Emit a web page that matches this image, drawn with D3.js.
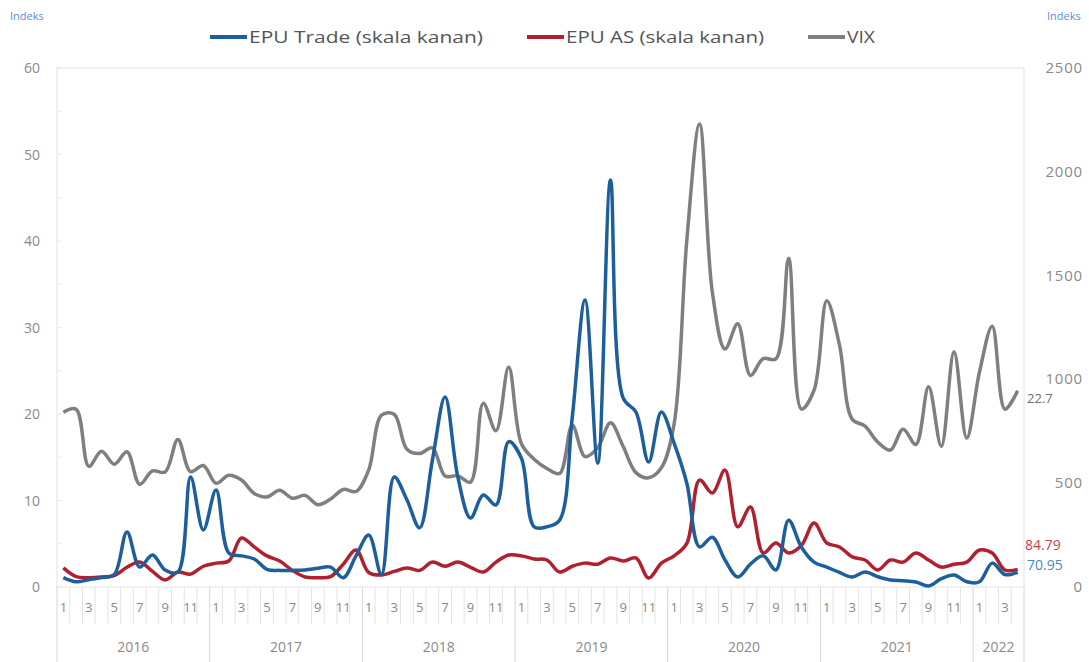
<!DOCTYPE html>
<html>
<head>
<meta charset="utf-8">
<script src="https://cdn.jsdelivr.net/npm/d3@7.9.0/dist/d3.min.js"></script>
<style>
  body { margin: 0; background: #fff; }
  svg { display: block; font-family: "Open Sans", "Noto Sans", sans-serif; }
</style>
</head>
<body>
<svg id="chart" width="1089" height="662"></svg>
<script>
// months Jan 2016 .. Apr 2022
const years = [2016, 2017, 2018, 2019, 2020, 2021, 2022];
const monthsPerYear = [12, 12, 12, 12, 12, 12, 4];

// VIX (left axis)
const vix = [
  20.2, 20.55, 13.95, 15.7, 14.19, 15.63, 11.87, 13.42, 13.29, 17.06, 13.33, 14.04,
  11.99, 12.92, 12.37, 10.82, 10.41, 11.18, 10.26, 10.59, 9.51, 10.18, 11.28, 11.04,
  13.54, 19.85, 19.97, 15.93, 15.43, 16.09, 12.83, 12.86, 12.12, 21.23, 18.07, 25.42,
  16.57, 14.78, 13.71, 13.12, 18.71, 15.08, 16.12, 18.98, 16.24, 13.22, 12.62, 13.78,
  18.84, 40.11, 53.54, 34.15, 27.51, 30.43, 24.46, 26.41, 26.37, 38.02, 20.57, 22.75,
  33.09, 27.95, 19.4, 18.61, 16.76, 15.83, 18.24, 16.48, 23.14, 16.26, 27.19, 17.22,
  24.83, 30.15, 20.56, 22.7
];

// EPU Trade (right axis)
const epuTrade = [
  45, 25, 35, 45, 60, 265, 96, 154, 82, 72, 530, 275,
  467, 164, 150, 135, 85, 80, 80, 82, 90, 96, 45, 150,
  250, 60, 530, 420, 285, 610, 915, 530, 332, 443, 395, 700,
  620, 290, 290, 322, 820, 1382, 597, 1960, 910, 843, 602, 843,
  693, 500, 193, 240, 130, 48, 110, 150, 82, 322, 193, 120,
  96, 70, 48, 72, 50, 34, 30, 24, 5, 40, 58, 25,
  25, 115, 60, 70.95
];

// EPU AS (right axis)
const epuAS = [
  92, 50, 45, 48, 55, 95, 120, 75, 34, 72, 62, 100,
  115, 125, 236, 193, 150, 125, 80, 48, 45, 50, 110, 178,
  70, 58, 75, 92, 80, 120, 100, 120, 95, 72, 120, 154,
  150, 135, 130, 72, 100, 115, 110, 140, 125, 140, 43, 115,
  150, 210, 515, 453, 563, 290, 385, 164, 212, 164, 200, 308,
  212, 193, 145, 130, 82, 130, 120, 164, 130, 96, 110, 120,
  178, 164, 82, 84.79
];

const leftTicks = [0, 10, 20, 30, 40, 50, 60];
const rightTicks = [0, 500, 1000, 1500, 2000, 2500];

const series = [
  { name: "EPU Trade (skala kanan)", values: epuTrade, axis: "right", color: "#1c5f9c" },
  { name: "EPU AS (skala kanan)", values: epuAS, axis: "right", color: "#b0202e" },
  { name: "VIX", values: vix, axis: "left", color: "#7f7f7f" }
];

// build month keys
const months = [];
years.forEach((y, yi) => {
  for (let m = 1; m <= monthsPerYear[yi]; m++) months.push({ key: `${y}-${m}`, year: y, month: m });
});

const svg = d3.select("#chart");
const plotLeft = 57, plotRight = 1024, plotTop = 68, plotBottom = 587;

const x = d3.scaleBand().domain(months.map(d => d.key)).range([plotLeft, plotRight]).padding(0);
const yL = d3.scaleLinear().domain([0, 60]).range([plotBottom, plotTop]);
const yR = d3.scaleLinear().domain([0, 2500]).range([plotBottom, plotTop]);
const cx = i => x(months[i].key) + x.bandwidth() / 2;

// plot frame
svg.append("rect")
  .attr("x", plotLeft).attr("y", plotTop)
  .attr("width", plotRight - plotLeft).attr("height", plotBottom - plotTop)
  .attr("fill", "none").attr("stroke", "#e2e2e2").attr("stroke-width", 1);

// left minor ticks
d3.range(0, 61, 5).forEach(v => {
  svg.append("line")
    .attr("x1", plotLeft).attr("x2", plotLeft + 4)
    .attr("y1", yL(v)).attr("y2", yL(v))
    .attr("stroke", "#e6e6e6");
});

// left axis labels
svg.append("g").selectAll("text").data(leftTicks).join("text")
  .attr("x", 40).attr("y", d => yL(d) + 5)
  .attr("text-anchor", "end")
  .attr("font-size", 14).attr("fill", "#8a8a8a")
  .text(d => d);

// right axis labels
svg.append("g").selectAll("text").data(rightTicks).join("text")
  .attr("x", 1083).attr("y", d => yR(d) + 5)
  .attr("text-anchor", "end")
  .attr("font-size", 15).attr("letter-spacing", 0.8).attr("fill", "#8a8a8a")
  .text(d => d);

// x axis: month boundaries, labels, year separators
const xa = svg.append("g");
months.forEach((d, i) => {
  const x0 = x(d.key);
  const isYearStart = d.month === 1;
  xa.append("line")
    .attr("x1", x0).attr("x2", x0)
    .attr("y1", plotBottom).attr("y2", isYearStart ? 662 : 624)
    .attr("stroke", isYearStart ? "#d6d6d6" : "#e4e4e4");
  if (d.month % 2 === 1) {
    xa.append("text")
      .attr("x", cx(i)).attr("y", 612)
      .attr("text-anchor", "middle")
      .attr("font-size", 13).attr("fill", "#8a8a8a")
      .text(d.month);
  }
});
xa.append("line")
  .attr("x1", plotRight).attr("x2", plotRight).attr("y1", plotBottom).attr("y2", 662)
  .attr("stroke", "#d6d6d6");

years.forEach(y => {
  const ms = months.filter(d => d.year === y);
  const x0 = x(ms[0].key), x1 = x(ms[ms.length - 1].key) + x.bandwidth();
  xa.append("text")
    .attr("x", (x0 + x1) / 2).attr("y", 652)
    .attr("text-anchor", "middle")
    .attr("font-size", 14).attr("fill", "#8a8a8a")
    .text(y);
});

// lines
const drawOrder = [series[2], series[1], series[0]];
drawOrder.forEach(s => {
  const yScale = s.axis === "left" ? yL : yR;
  const line = d3.line()
    .x((d, i) => cx(i))
    .y(d => yScale(d))
    .curve(d3.curveCatmullRom.alpha(0.5));
  svg.append("path")
    .datum(s.values)
    .attr("d", line)
    .attr("fill", "none")
    .attr("stroke", s.color)
    .attr("stroke-width", 3.5)
    .attr("stroke-linejoin", "round");
});

// end labels
const last = months.length - 1;
svg.append("text").attr("x", 1027).attr("y", yL(vix[last]) + 12)
  .attr("font-size", 13).attr("fill", "#6d6d6d").text(vix[last]);
svg.append("text").attr("x", 1025).attr("y", 550)
  .attr("font-size", 14).attr("fill", "#c8424c").text(epuAS[last]);
svg.append("text").attr("x", 1027).attr("y", 570)
  .attr("font-size", 14).attr("fill", "#4b88bd").text(epuTrade[last]);

// "Indeks" labels
svg.append("text").attr("x", 10).attr("y", 20)
  .attr("font-size", 11).attr("fill", "#5b8fd0").text("Indeks");
svg.append("text").attr("x", 1047).attr("y", 20)
  .attr("font-size", 11).attr("fill", "#5b8fd0").text("Indeks");

// legend
const legendPos = [
  { s: series[0], x: 210, w: 234 },
  { s: series[1], x: 527, w: 198 },
  { s: series[2], x: 808, w: 28 }
];
legendPos.forEach(({ s, x: lx, w }) => {
  svg.append("line")
    .attr("x1", lx).attr("x2", lx + 37).attr("y1", 37).attr("y2", 37)
    .attr("stroke", s.color).attr("stroke-width", 4);
  svg.append("text")
    .attr("x", lx + 39).attr("y", 43)
    .attr("font-size", 16).attr("fill", "#555")
    .attr("textLength", w).attr("lengthAdjust", "spacingAndGlyphs")
    .text(s.name);
});
</script>
</body>
</html>
